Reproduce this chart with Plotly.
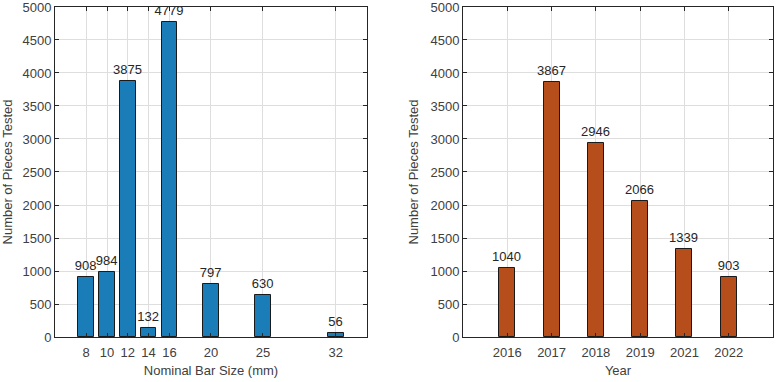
import plotly.graph_objects as go

bar_sizes = [8, 10, 12, 14, 16, 20, 25, 32]
pieces_by_size = [908, 984, 3875, 132, 4779, 797, 630, 56]
years = ["2016", "2017", "2018", "2019", "2021", "2022"]
pieces_by_year = [1040, 3867, 2946, 2066, 1339, 903]
y_ticks = list(range(0, 5001, 500))

FONT = "Liberation Sans, Arial, sans-serif"
TXT = "#262626"
LBL = "#404040"
GRID = "#dedede"
BLUE = "#1b7db8"
ORANGE = "#b54e1b"
FS = 13

fig = go.Figure()
fig.add_trace(go.Bar(
    x=bar_sizes, y=pieces_by_size, width=1.5,
    marker=dict(color=BLUE, line=dict(color="#1a1a1a", width=1)),
    text=[str(v) for v in pieces_by_size], textposition="outside",
    textfont=dict(family=FONT, size=FS, color=TXT), cliponaxis=False,
    xaxis="x", yaxis="y", showlegend=False))
fig.add_trace(go.Bar(
    x=years, y=pieces_by_year, width=0.36,
    marker=dict(color=ORANGE, line=dict(color="#1a1a1a", width=1)),
    text=[str(v) for v in pieces_by_year], textposition="outside",
    textfont=dict(family=FONT, size=FS, color=TXT), cliponaxis=False,
    xaxis="x2", yaxis="y2", showlegend=False))

axis_common = dict(
    showline=True, linecolor="#262626", linewidth=1, mirror="ticks",
    ticks="inside", ticklen=4, tickcolor="#262626",
    showgrid=True, gridcolor=GRID, gridwidth=1, zeroline=False,
    tickfont=dict(family=FONT, size=FS, color=LBL),
    ticklabeloverflow="allow", automargin=False,
)

yax = dict(axis_common, range=[0, 5000], tickvals=y_ticks,
           title=dict(text="Number of Pieces Tested", font=dict(family=FONT, size=FS, color=LBL), standoff=8))

xtitle_font = dict(family=FONT, size=FS, color=LBL)
ydom = [0.1178, 0.9817]

fig.update_layout(
    width=777, height=382, margin=dict(l=0, r=0, t=0, b=0),
    paper_bgcolor="white", plot_bgcolor="white",
    bargap=0,
    uniformtext=dict(minsize=FS, mode="show"),
    xaxis=dict(axis_common, domain=[0.0708, 0.4723], range=[5, 35], tickvals=bar_sizes,
               ticklabelstandoff=3,
               title=dict(text="Nominal Bar Size (mm)", font=xtitle_font, standoff=7)),
    yaxis=dict(yax, domain=ydom, anchor="x"),
    xaxis2=dict(axis_common, domain=[0.5959, 0.9949], type="category", range=[-1, 6],
                categoryorder="array", categoryarray=years, anchor="y2",
                ticklabelstandoff=3,
                title=dict(text="Year", font=xtitle_font, standoff=7)),
    yaxis2=dict(yax, domain=ydom, anchor="x2"),
)

fig.write_html("out.html")
